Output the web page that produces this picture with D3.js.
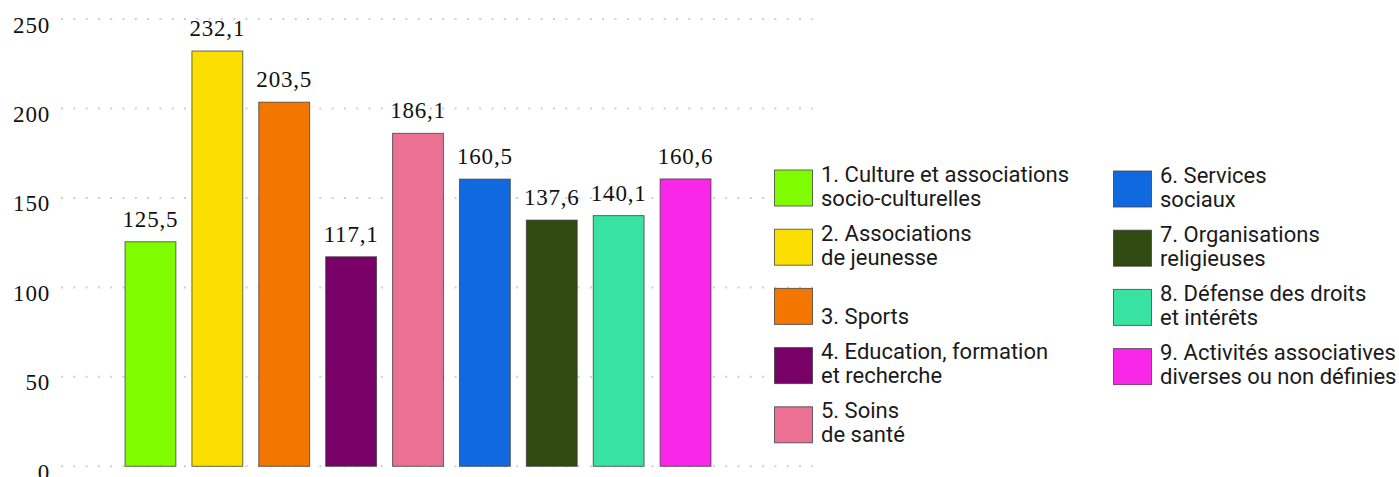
<!DOCTYPE html>
<html>
<head>
<meta charset="utf-8">
<script src="https://cdn.jsdelivr.net/npm/d3@7"></script>
<style>
  body { margin: 0; background: #fff; }
  svg { display: block; }
</style>
</head>
<body>
<script>
// data
var categories = ["1", "2", "3", "4", "5", "6", "7", "8", "9"];
var values = [125.5, 232.1, 203.5, 117.1, 186.1, 160.5, 137.6, 140.1, 160.6];
var colors = ["#80fc00", "#fbdf00", "#f37600", "#780066", "#ea7094", "#1169df", "#314a12", "#38e3a2", "#f927e8"];
var legendLines = [
  ["1. Culture et associations", "socio-culturelles"],
  ["2. Associations", "de jeunesse"],
  ["", "3. Sports"],
  ["4. Education, formation", "et recherche"],
  ["5. Soins", "de santé"],
  ["6. Services", "sociaux"],
  ["7. Organisations", "religieuses"],
  ["8. Défense des droits", "et intérêts"],
  ["9. Activités associatives", "diverses ou non définies"]
];
var yTicks = [0, 50, 100, 150, 200, 250];

var width = 1399, height = 477;
var fmt = function(v) { return d3.format(".1f")(v).replace(".", ","); };

var svg = d3.select("body").append("svg")
    .attr("width", width)
    .attr("height", height);

var x = d3.scaleBand()
    .domain(categories)
    .range([117, 719])
    .paddingInner(0.24)
    .paddingOuter(0.12);

var y = d3.scaleLinear()
    .domain([0, 250])
    .range([466.3, 19]);

// dotted grid
svg.append("g").selectAll("line")
  .data(yTicks)
  .enter().append("line")
    .attr("x1", 61)
    .attr("x2", 813)
    .attr("y1", function(d) { return y(d); })
    .attr("y2", function(d) { return y(d); })
    .attr("stroke", "#c6d4d0")
    .attr("stroke-width", 2)
    .attr("stroke-dasharray", "2 10.3");

// y axis labels
var yAxis = d3.axisLeft(y).tickValues(yTicks).tickSize(0).tickPadding(0);
var ga = svg.append("g")
    .attr("transform", "translate(50,0)")
    .call(yAxis);
ga.select(".domain").remove();
ga.selectAll("text")
    .attr("dy", null)
    .attr("y", 13)
    .attr("fill", "#111")
    .style("font-family", "'Liberation Serif', serif")
    .style("font-size", "23px")
    .style("letter-spacing", "0.8px");

// bars
svg.append("g").selectAll("rect")
  .data(values)
  .enter().append("rect")
    .attr("x", function(d, i) { return x(categories[i]); })
    .attr("y", function(d) { return y(d); })
    .attr("width", x.bandwidth())
    .attr("height", function(d) { return y(0) - y(d); })
    .attr("fill", function(d, i) { return colors[i]; })
    .attr("stroke", "#3a3a3a")
    .attr("stroke-opacity", 0.75)
    .attr("stroke-width", 1);

// value labels
svg.append("g").selectAll("text")
  .data(values)
  .enter().append("text")
    .attr("x", function(d, i) { return x(categories[i]) + x.bandwidth() / 2; })
    .attr("y", function(d) { return y(d) - 15; })
    .attr("text-anchor", "middle")
    .attr("fill", "#111")
    .style("font-family", "'Liberation Serif', serif")
    .style("font-size", "23px")
    .style("letter-spacing", "0.8px")
    .text(function(d) { return fmt(d); });

// legend, two columns
var legend = svg.append("g");
var item = legend.selectAll("g")
  .data(legendLines)
  .enter().append("g")
    .attr("transform", function(d, i) {
      var col = i < 5 ? 0 : 1;
      var row = i < 5 ? i : i - 5;
      var lx = col === 0 ? 774 : 1113;
      var ly = (col === 0 ? 169.5 : 170.5) + row * 59.2;
      return "translate(" + lx + "," + ly + ")";
    });

item.append("rect")
    .attr("x", 0.5)
    .attr("y", 0.5)
    .attr("width", 38)
    .attr("height", 36)
    .attr("fill", function(d, i) { return colors[i]; })
    .attr("stroke", "#3a3a3a")
    .attr("stroke-opacity", 0.75);

item.selectAll("text")
  .data(function(d) { return d; })
  .enter().append("text")
    .attr("x", 47)
    .attr("y", function(d, j) { return 12 + j * 24; })
    .attr("fill", "#1a1a1a")
    .style("font-family", "Roboto, sans-serif")
    .style("font-size", "22px")
    .text(function(d) { return d; });
</script>
</body>
</html>
